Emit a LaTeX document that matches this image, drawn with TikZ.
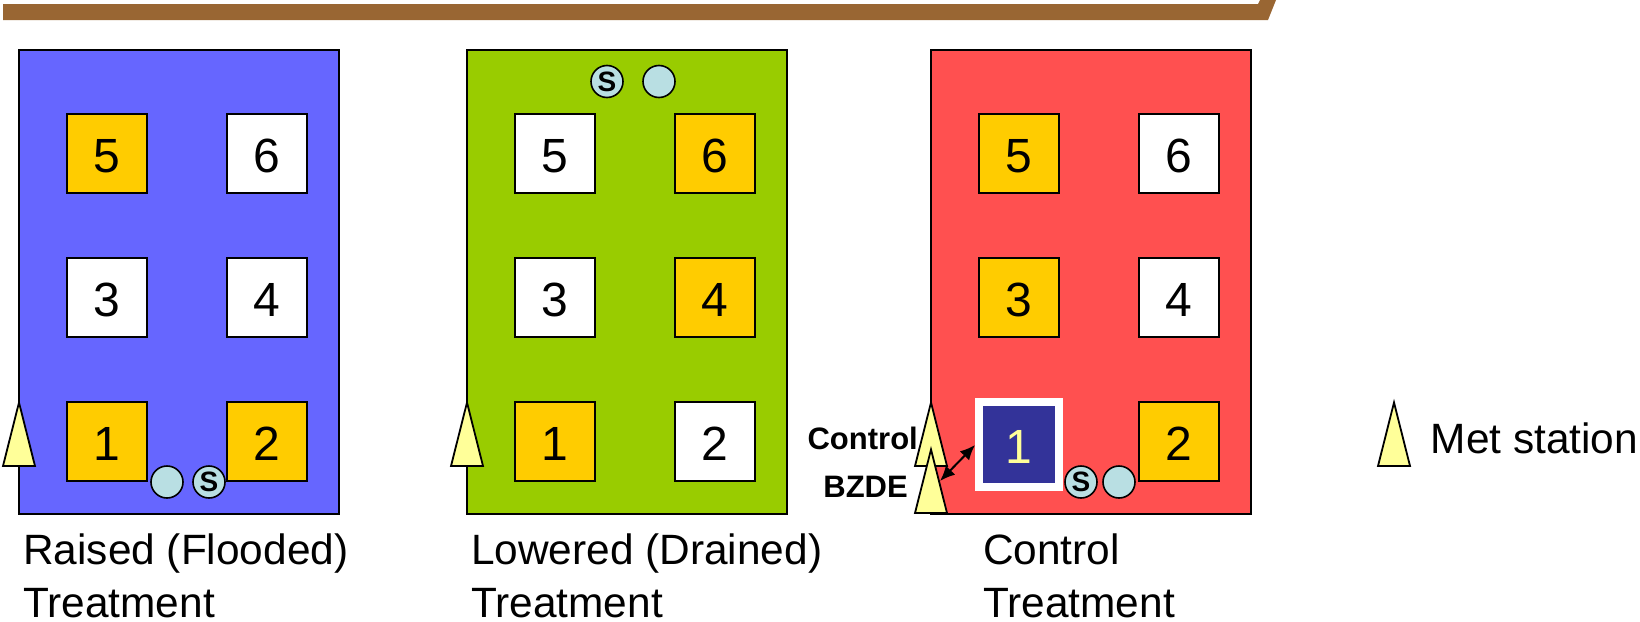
\documentclass[tikz,border=0pt]{standalone}
\usepackage{fontspec}
\usetikzlibrary{arrows.meta}
\setmainfont{Liberation Sans}
\definecolor{plotblue}{HTML}{6666FF}
\definecolor{plotgreen}{HTML}{99CC00}
\definecolor{plotred}{HTML}{FF5050}
\definecolor{plotgold}{HTML}{FFCC00}
\definecolor{navy}{HTML}{333399}
\definecolor{paleyellow}{HTML}{FFFF99}
\definecolor{palecyan}{HTML}{B9DFE3}
\definecolor{brownbar}{HTML}{996633}
\tikzset{
  plotarea/.style={draw=black,line width=2pt,minimum width=320pt,minimum height=464pt,inner sep=0pt,outer sep=0pt},
  plotsq/.style={draw=black,line width=2pt,minimum width=80pt,minimum height=79pt,inner sep=0pt,text height=37.5pt,text depth=0pt,font=\fontsize{48}{48}\selectfont},
  gold/.style={plotsq,fill=plotgold},
  plain/.style={plotsq,fill=white},
  probe/.style={circle,draw=black,line width=1.6pt,fill=palecyan,minimum size=32pt,inner sep=0pt,font=\fontsize{28}{28}\selectfont\bfseries},
  met/.style={draw=black,line width=1.8pt,line join=miter,fill=paleyellow},
  caption/.style={align=left,inner sep=0pt,font=\fontsize{42.4}{52.7}\selectfont},
  smalllab/.style={inner sep=0pt,font=\fontsize{31}{31}\selectfont\bfseries},
}
\newcommand{\metmark}[2]{\draw[met] (#1,#2) -- ++(16,63.5) -- ++(-32,0) -- cycle;}
\begin{document}
\begin{tikzpicture}[x=1pt,y=-1pt]
\useasboundingbox (0,0) rectangle (1640,621);
\fill[brownbar] (3,4) -- (1258,4) -- (1260,0) -- (1276,0) -- (1268,20) -- (3,20) -- cycle;
% plots
\node[plotarea,fill=plotblue,anchor=north west] (pa) at (19,50) {};
\node[plotarea,fill=plotgreen,anchor=north west] (pb) at (467,50) {};
\node[plotarea,fill=plotred,anchor=north west] (pc) at (931,50) {};
% plot A
\node[gold] (a5) at (106.5,153.5) {5};
\node[plain] (a6) at (266.5,153.5) {6};
\node[plain] (a3) at (106.5,297.5) {3};
\node[plain] (a4) at (266.5,297.5) {4};
\node[gold] (a1) at (106.5,441.5) {1};
\node[gold] (a2) at (266.5,441.5) {2};
\node[probe] (ac) at (167,482) {};
\node[probe] (as) at (209,482) {S};
% plot B
\node[plain] (b5) at (554.5,153.5) {5};
\node[gold] (b6) at (714.5,153.5) {6};
\node[plain] (b3) at (554.5,297.5) {3};
\node[gold] (b4) at (714.5,297.5) {4};
\node[gold] (b1) at (554.5,441.5) {1};
\node[plain] (b2) at (714.5,441.5) {2};
\node[probe] (bs) at (607,81.5) {S};
\node[probe] (bc) at (659,81.5) {};
% plot C
\node[gold] (c5) at (1018.5,153.5) {5};
\node[plain] (c6) at (1178.5,153.5) {6};
\node[gold] (c3) at (1018.5,297.5) {3};
\node[plain] (c4) at (1178.5,297.5) {4};
\node[plotsq,draw=white,line width=8pt,fill=navy,text=paleyellow,minimum width=80pt,minimum height=85pt] (c1) at (1019,444.5) {1};
\node[gold] (c2) at (1178.5,441.5) {2};
\node[probe] (cs) at (1081,482) {S};
\node[probe] (cc) at (1119,482) {};
% met stations
\metmark{19}{402.5}
\metmark{467}{402.5}
\metmark{931}{402.5}
\metmark{931}{449.5}
\metmark{1394}{402.5}
\node[smalllab,anchor=base east] (ctl) at (918,449) {Control};
\node[smalllab,anchor=base east] (bz) at (908,497) {BZDE};
\coordinate (bzdeside) at (940,481);
\coordinate (ctrlsq) at (975,445);
\draw[line width=2pt,{Latex[length=15pt,width=13pt]}-{Latex[length=15pt,width=13pt]}] (bzdeside) -- (ctrlsq);
% captions
\node[caption,anchor=north west] (ca) at (23,534) {Raised (Flooded)\\Treatment};
\node[caption,anchor=north west] (cb) at (471,534) {Lowered (Drained)\\Treatment};
\node[caption,anchor=north west] (cc2) at (983,534) {Control\\Treatment};
\node[inner sep=0pt,anchor=base west,font=\fontsize{42.4}{52}\selectfont] (ml) at (1430.5,453) {Met station};
\end{tikzpicture}
\end{document}
